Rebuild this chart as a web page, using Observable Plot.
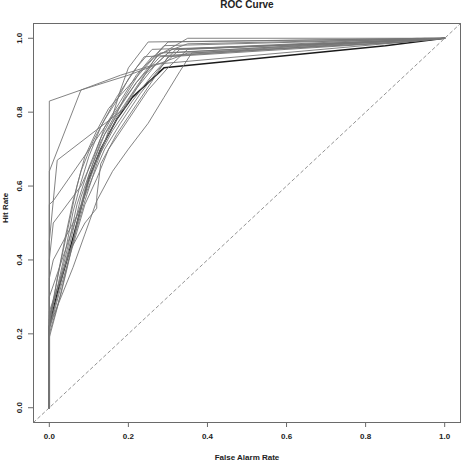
<!DOCTYPE html>
<html>
<head>
<meta charset="utf-8">
<script src="https://cdn.jsdelivr.net/npm/d3@7"></script>
<script src="https://cdn.jsdelivr.net/npm/@observablehq/plot@0.6"></script>
<style>
  html, body { margin: 0; padding: 0; background: #fff; }
  #chart svg { display: block; }
</style>
</head>
<body>
<div id="chart"></div>
<script>
// ROC curves: each array holds [false alarm rate, hit rate] points.
const rocA = [[0,0],[0,0.83],[0.08,0.86],[0.18,0.9],[0.27,0.93],[0.9,0.99],[1,1]];
const rocB = [[0,0],[0,0.64],[0.08,0.86],[0.2,0.9],[0.35,0.96],[0.9,0.995],[1,1]];
const rocC = [[0,0],[0,0.45],[0.02,0.67],[0.19,0.81],[0.27,0.95],[0.35,1.0],[1,1]];
const rocD = [[0,0],[0,0.55],[0.01,0.56],[0.16,0.79],[0.22,0.88],[0.28,0.96],[0.92,0.995],[1,1]];
const rocE = [[0,0],[0,0.23],[0.01,0.28],[0.03,0.36],[0.05,0.45],[0.07,0.55],[0.1,0.65],[0.13,0.73],[0.16,0.79],[0.18,0.86],[0.2,0.92],[0.25,0.99],[1,1]];
const rocF = [[0,0],[0,0.22],[0.02,0.3],[0.04,0.39],[0.06,0.48],[0.08,0.57],[0.11,0.66],[0.14,0.74],[0.19,0.82],[0.24,0.9],[0.3,0.96],[0.95,1],[1,1]];
const rocG = [[0,0],[0,0.2],[0.03,0.31],[0.05,0.4],[0.07,0.5],[0.09,0.58],[0.12,0.67],[0.16,0.75],[0.21,0.83],[0.26,0.9],[0.32,0.97],[0.9,0.995],[1,1]];
const rocH = [[0,0],[0,0.24],[0.015,0.3],[0.04,0.42],[0.06,0.53],[0.08,0.61],[0.1,0.68],[0.13,0.76],[0.17,0.84],[0.22,0.92],[0.26,0.97],[0.85,0.99],[1,1]];
const rocI = [[0,0],[0,0.21],[0.03,0.33],[0.06,0.44],[0.09,0.55],[0.12,0.62],[0.15,0.7],[0.2,0.78],[0.25,0.86],[0.3,0.92],[0.35,0.97],[0.92,0.995],[1,1]];
const rocJ = [[0,0],[0,0.22],[0.03,0.3],[0.06,0.38],[0.09,0.47],[0.12,0.56],[0.16,0.64],[0.2,0.7],[0.25,0.77],[0.29,0.84],[0.33,0.91],[0.36,0.96],[0.9,0.99],[1,1]];
const rocK = [[0,0],[0,0.25],[0.02,0.32],[0.05,0.42],[0.09,0.5],[0.12,0.54],[0.12,0.57],[0.13,0.66],[0.17,0.74],[0.22,0.82],[0.27,0.9],[0.3,0.95],[0.9,0.99],[1,1]];
const rocL = [[0,0],[0,0.3],[0.08,0.55],[0.1,0.63],[0.13,0.72],[0.17,0.8],[0.22,0.88],[0.28,0.95],[0.9,0.995],[1,1]];
const rocM = [[0,0],[0,0.26],[0.06,0.45],[0.09,0.56],[0.12,0.66],[0.15,0.75],[0.19,0.84],[0.23,0.91],[0.29,0.98],[1,1]];
const rocN = [[0,0],[0,0.35],[0.01,0.4],[0.07,0.52],[0.1,0.6],[0.14,0.7],[0.18,0.77],[0.23,0.85],[0.28,0.92],[0.33,0.97],[0.9,0.995],[1,1]];
const rocO = [[0,0],[0,0.4],[0.01,0.5],[0.08,0.6],[0.11,0.67],[0.14,0.76],[0.18,0.83],[0.22,0.9],[0.26,0.95],[0.35,0.985],[1,1]];
const rocP = [[0,0],[0,0.22],[0.02,0.35],[0.04,0.46],[0.06,0.56],[0.08,0.64],[0.11,0.72],[0.14,0.78],[0.17,0.83],[0.2,0.89],[0.24,0.95],[0.88,0.99],[1,1]];
const rocQ = [[0,0],[0,0.19],[0.02,0.27],[0.04,0.36],[0.06,0.45],[0.08,0.54],[0.1,0.62],[0.13,0.7],[0.17,0.78],[0.21,0.85],[0.27,0.93],[0.31,0.97],[0.93,1],[1,1]];
const rocR = [[0,0],[0,0.24],[0.03,0.4],[0.05,0.5],[0.07,0.6],[0.09,0.68],[0.12,0.75],[0.15,0.81],[0.2,0.87],[0.25,0.93],[0.3,0.99],[1,1]];
// Highlighted curve, drawn in black beneath the others
const rocMain = [[0,0],[0,0.22],[0.02,0.31],[0.05,0.42],[0.08,0.54],[0.1,0.62],[0.13,0.7],[0.17,0.78],[0.21,0.84],[0.25,0.88],[0.29,0.92],[0.85,0.98],[1,1]];

const axisTicks = [0, 0.2, 0.4, 0.6, 0.8, 1.0];
const chance = [[-0.04, -0.04], [1.04, 1.04]];

const grayCurves = [rocA, rocB, rocC, rocD, rocE, rocF, rocG, rocH, rocI,
                    rocJ, rocK, rocL, rocM, rocN, rocO, rocP, rocQ, rocR];
const grayRows = grayCurves.flatMap((c, i) => c.map(([fpr, tpr]) => ({id: i, fpr, tpr})));
const mainRows = rocMain.map(([fpr, tpr]) => ({fpr, tpr}));
const fmt = d3.format(".1f");

const chart = Plot.plot({
  width: 467,
  height: 464,
  marginLeft: 33,
  marginRight: 7,
  marginTop: 23,
  marginBottom: 42,
  x: {domain: [-0.04, 1.04]},
  y: {domain: [-0.04, 1.04]},
  style: {fontFamily: "'Liberation Sans', Arial, sans-serif", fontWeight: "bold", fontSize: "8px", background: "#fff"},
  marks: [
    Plot.frame({stroke: "#6a6a6a", strokeWidth: 1}),
    Plot.line(chance, {x: d => d[0], y: d => d[1], stroke: "#777", strokeWidth: 0.8, strokeDasharray: "3,3"}),
    Plot.line(mainRows, {x: "fpr", y: "tpr", stroke: "#1a1a1a", strokeWidth: 1.5}),
    Plot.line(grayRows, {x: "fpr", y: "tpr", z: "id", stroke: "#757575", strokeWidth: 0.9}),
    Plot.axisX(axisTicks, {tickSize: 5, tickPadding: 6, tickFormat: fmt, stroke: "#6a6a6a", fill: "#222", label: null}),
    Plot.axisY(axisTicks, {tickSize: 5, tickFormat: () => "", stroke: "#6a6a6a", label: null}),
    Plot.text(axisTicks, {y: d => d, text: fmt, frameAnchor: "left", dx: -14, rotate: -90, fill: "#222", textAnchor: "middle", lineAnchor: "middle"}),
    Plot.text(["ROC Curve"], {frameAnchor: "top", dy: -19, fontSize: 10, fill: "#222", lineAnchor: "middle"}),
    Plot.text(["False Alarm Rate"], {frameAnchor: "bottom", dy: 35, fill: "#222", lineAnchor: "middle"}),
    Plot.text(["Hit Rate"], {frameAnchor: "left", dx: -28, rotate: -90, fill: "#222", lineAnchor: "middle"})
  ]
});
document.getElementById("chart").append(chart);
</script>
</body>
</html>
